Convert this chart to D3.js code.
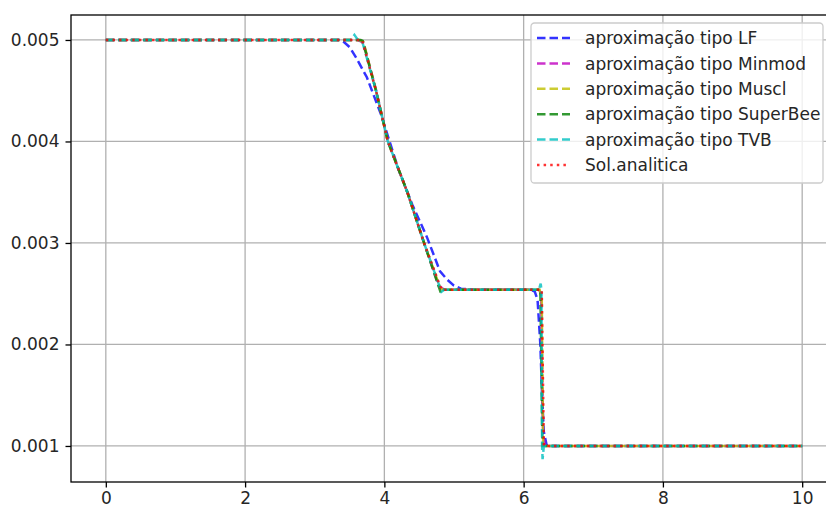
<!DOCTYPE html>
<html>
<head>
<meta charset="utf-8">
<script src="https://cdn.jsdelivr.net/npm/d3@7"></script>
<style>
  body { margin: 0; background: #fff; }
  text { font-family: "DejaVu Sans", sans-serif; }
</style>
</head>
<body>
<script>
// series, [x, h]
const lf = [[0,0.005],[3.35,0.005],[3.42,0.00498],[3.5,0.00493],[3.6,0.00482],[3.75,0.00463],[3.95,0.00427],
  [4.2,0.00373],[4.4,0.00338],[4.61,0.00306],[4.8,0.00272],[4.9,0.00264],[5.0,0.00258],[5.1,0.00255],[5.25,0.00254],
  [6.1,0.00254],[6.16,0.00252],[6.2,0.00244],[6.24,0.0020],[6.27,0.0014],[6.29,0.00114],[6.33,0.00101],[6.4,0.001],[10,0.001]];
const minmod = [[0,0.005],[3.62,0.005],[3.7,0.00497],[3.88,0.00451],[4.05,0.004],[4.33,0.0035],[4.57,0.003],
  [4.78,0.00258],[4.86,0.00254],[6.22,0.00254],[6.25,0.0025],[6.28,0.0011],[6.31,0.001],[10,0.001]];
const muscl = [[0,0.005],[3.64,0.005],[3.7,0.00498],[3.88,0.0045],[4.05,0.004],[4.33,0.0035],[4.57,0.003],
  [4.8,0.00256],[4.84,0.00254],[6.23,0.00254],[6.26,0.00245],[6.28,0.001],[10,0.001]];
const superbee = [[0,0.005],[3.66,0.005],[3.69,0.00499],[3.88,0.0045],[4.05,0.004],[4.33,0.0035],[4.57,0.003],
  [4.81,0.00251],[4.84,0.00254],[6.24,0.00254],[6.27,0.001],[10,0.001]];
const tvb = [[0,0.005],[3.52,0.005],[3.57,0.00505],[3.62,0.005],[3.68,0.00499],[3.88,0.0045],[4.05,0.004],
  [4.33,0.0035],[4.57,0.003],[4.82,0.00252],[4.86,0.00254],[6.22,0.00254],[6.245,0.0026],[6.255,0.00254],
  [6.265,0.001],[6.272,0.00087],[6.29,0.001],[10,0.001]];
const analitica = [[0,0.005],[3.68,0.005],[3.88,0.0045],[4.05,0.004],[4.33,0.0035],[4.57,0.003],[4.82,0.00254],
  [6.26,0.00254],[6.29,0.001],[10,0.001]];

const labels = ["aproximação tipo LF", "aproximação tipo Minmod", "aproximação tipo Muscl",
  "aproximação tipo SuperBee", "aproximação tipo TVB", "Sol.analitica"];
const colors = ["#0000ff", "#bf00bf", "#bfbf00", "#008000", "#00bfbf", "#ff0000"];
const xTicks = [0, 2, 4, 6, 8, 10];
const yTicks = [0.001, 0.002, 0.003, 0.004, 0.005];

const series = [lf, minmod, muscl, superbee, tvb, analitica];

const width = 826, height = 506;
const box = {left: 71, top: 15, right: 837, bottom: 482};
const fontSize = "17px";

const svg = d3.select("body").append("svg")
  .attr("width", width).attr("height", height);

const x = d3.scaleLinear().domain([-0.5, 10.5]).range([box.left, box.right]);
const y = d3.scaleLinear().domain([0.000645, 0.005246]).range([box.bottom, box.top]);

svg.append("defs").append("clipPath").attr("id", "clip")
  .append("rect")
  .attr("x", box.left).attr("y", box.top)
  .attr("width", box.right - box.left).attr("height", box.bottom - box.top);

// grid
const grid = svg.append("g").attr("stroke", "#b0b0b0").attr("stroke-width", 1.3);
grid.selectAll(".gx").data(xTicks).enter().append("line")
  .attr("x1", d => x(d)).attr("x2", d => x(d))
  .attr("y1", box.top).attr("y2", box.bottom);
grid.selectAll(".gy").data(yTicks).enter().append("line")
  .attr("x1", box.left).attr("x2", box.right)
  .attr("y1", d => y(d)).attr("y2", d => y(d));

// lines
const line = d3.line().x(d => x(d[0])).y(d => y(d[1]));
const plot = svg.append("g").attr("clip-path", "url(#clip)");
series.forEach((s, i) => {
  plot.append("path")
    .datum(s)
    .attr("d", line)
    .attr("fill", "none")
    .attr("stroke", colors[i])
    .attr("stroke-opacity", 0.8)
    .attr("stroke-width", 2.5)
    .attr("stroke-dasharray", i == 5 ? "2.5,4.1" : "8.5,4");
});

// axes
const xAxis = svg.append("g")
  .attr("transform", `translate(0, ${box.bottom})`)
  .call(d3.axisBottom(x).tickValues(xTicks).tickSize(5.5).tickPadding(4).tickFormat(d3.format("d")));
const yAxis = svg.append("g")
  .attr("transform", `translate(${box.left}, 0)`)
  .call(d3.axisLeft(y).tickValues(yTicks).tickSize(5.5).tickPadding(6).tickFormat(d3.format(".3f")));
[xAxis, yAxis].forEach(a => {
  a.select(".domain").remove();
  a.selectAll("line").attr("stroke", "#000").attr("stroke-width", 1.3);
  a.selectAll("text").attr("fill", "#262626").style("font-size", fontSize).style("font-family", "DejaVu Sans");
});

// frame
svg.append("rect")
  .attr("x", box.left).attr("y", box.top)
  .attr("width", box.right - box.left).attr("height", box.bottom - box.top)
  .attr("fill", "none").attr("stroke", "#000").attr("stroke-width", 1.3);

// legend
const lg = svg.append("g");
lg.append("rect")
  .attr("x", 531).attr("y", 23).attr("width", 292).attr("height", 160)
  .attr("rx", 3.5)
  .attr("fill", "#fff").attr("fill-opacity", 0.8)
  .attr("stroke", "#cccccc").attr("stroke-width", 1.3);
labels.forEach((lab, i) => {
  const cy = 38 + i * 25.4;
  lg.append("line")
    .attr("x1", 537).attr("x2", 570).attr("y1", cy).attr("y2", cy)
    .attr("stroke", colors[i]).attr("stroke-opacity", 0.8)
    .attr("stroke-width", 2.5)
    .attr("stroke-dasharray", i == 5 ? "2.5,4.1" : "8.5,4");
  lg.append("text")
    .attr("x", 585).attr("y", cy).attr("dy", "0.36em")
    .attr("fill", "#262626")
    .style("font-size", fontSize)
    .text(lab);
});
</script>
</body>
</html>
